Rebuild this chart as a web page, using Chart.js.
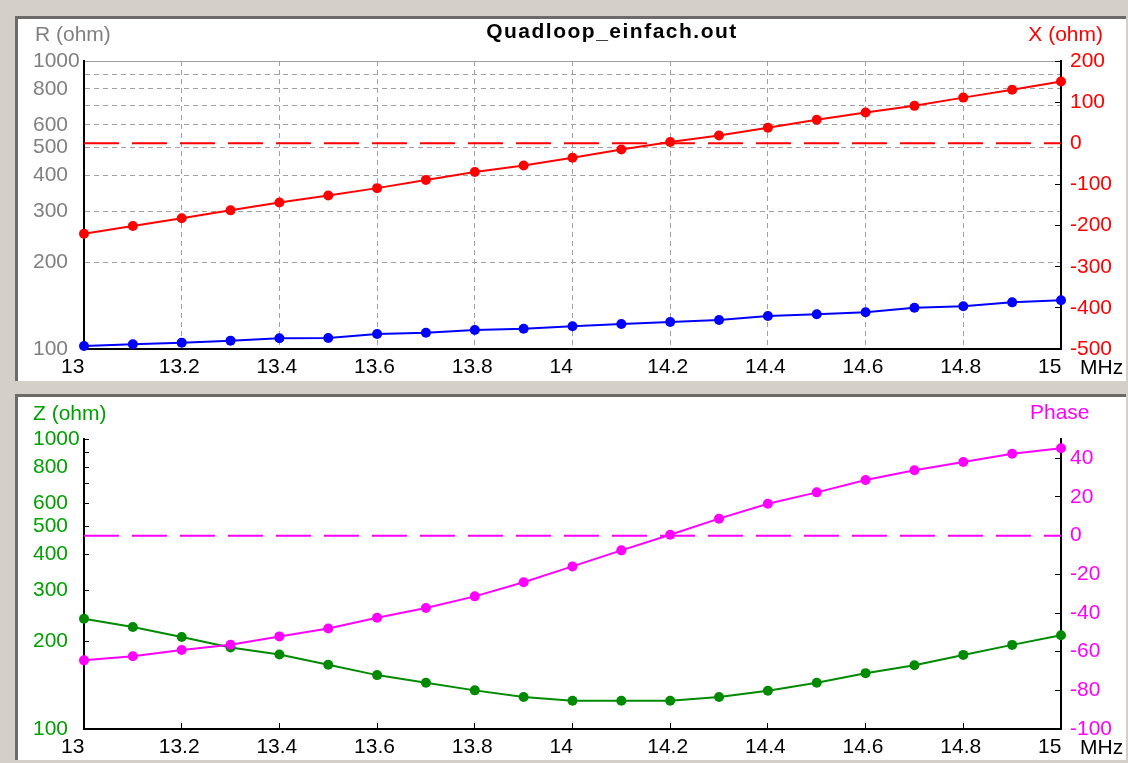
<!DOCTYPE html>
<html lang="de">
<head>
<meta charset="UTF-8">
<title>Quadloop_einfach.out</title>
<style>
  body { margin: 0; background: #d4d0c8; width: 1128px; height: 763px; overflow: hidden; }
  .panel { position: absolute; left: 15px; width: 1111px; background: #fff;
           border-top: 3px solid #6c6a66; border-left: 3px solid #6c6a66; box-sizing: border-box; }
  #p1 { top: 16px; height: 365px; }
  #p2 { top: 394px; height: 366px; }
  .panel div { position: relative; width: 1108px; height: 100%; }
</style>
</head>
<body>
  <div class="panel" id="p1"><div><canvas id="chartRX"></canvas></div></div>
  <div class="panel" id="p2"><div><canvas id="chartZP"></canvas></div></div>

<script src="https://cdn.jsdelivr.net/npm/chart.js"></script>
<script>
  // Frequenz in MHz
  const freq = [13.0, 13.1, 13.2, 13.3, 13.4, 13.5, 13.6, 13.7, 13.8, 13.9, 14.0,
                14.1, 14.2, 14.3, 14.4, 14.5, 14.6, 14.7, 14.8, 14.9, 15.0];
  const resistance = [102.4, 103.8, 105.2, 106.9, 108.9, 109.2, 112.7, 113.9, 116.4, 117.6, 119.9,
                      122.1, 124.1, 126.1, 130.2, 132.0, 134.1, 139.0, 140.7, 145.2, 147.6];
  const reactance = [-220, -201, -182, -163, -144, -127, -109, -89, -70, -54, -35,
                     -15, 3, 19, 38, 57, 75, 91, 111, 130, 150];
  const impedance = [240, 224.8, 207.7, 191, 180.7, 166.5, 153.4, 144.3, 135.9, 128.9, 125.2,
                     125.2, 125.1, 128.9, 135.5, 144.3, 155.8, 166, 180.1, 195, 210.6];
  const phase = [-64.5, -62.4, -59.1, -56.4, -52.1, -48, -42.5, -37.4, -31.4, -24.1, -15.9,
                 -7.6, 0.5, 8.8, 16.5, 22.4, 28.8, 33.8, 38.1, 42.4, 45.2];

  // Achsen
  const xTicks = [13, 13.2, 13.4, 13.6, 13.8, 14, 14.2, 14.4, 14.6, 14.8, 15];
  const ohmTicks = [100, 200, 300, 400, 500, 600, 700, 800, 900, 1000];
  const ohmLabels = [100, 200, 300, 400, 500, 600, 800, 1000];
  const reactTicks = [-500, -400, -300, -200, -100, 0, 100, 200];
  const phaseTicks = [-100, -80, -60, -40, -20, 0, 20, 40];

  Chart.defaults.font.family = '"Liberation Sans", Arial, sans-serif';
  Chart.defaults.font.size = 21;

  function pts(ys) { return freq.map((f, i) => ({ x: f, y: ys[i] })); }
  function zeroLine() { return [{ x: freq[0], y: 0 }, { x: freq[freq.length - 1], y: 0 }]; }
  function setTicks(values) { return axis => { axis.ticks = values.map(v => ({ value: v })); }; }
  function fixWidth(w) { return axis => { axis.width = w; }; }
  function fixHeight(h) { return axis => { axis.height = h; }; }
  function fmtX(v) { return String(Math.round(v * 10) / 10); }
  function ohmLabel(v) { return ohmLabels.includes(v) ? String(v) : ''; }

  function serie(data, color, axis) {
    return { data: data, yAxisID: axis, borderColor: color, backgroundColor: color,
             borderWidth: 2, pointRadius: 5, pointBorderWidth: 0, clip: false };
  }
  function dashed(color, axis) {
    return { data: zeroLine(), yAxisID: axis, borderColor: color, borderWidth: 2,
             borderDash: [35, 13], pointRadius: 0, clip: false };
  }

  function textPlugin(items) {
    return {
      id: 'texte',
      afterDraw(chart) {
        const c = chart.ctx;
        c.save();
        c.textBaseline = 'middle';
        items.forEach(t => {
          c.font = t.font;
          c.fillStyle = t.color;
          c.textAlign = t.align || 'left';
          c.letterSpacing = t.spacing || '0px';
          c.fillText(t.text, t.x, t.y);
        });
        c.restore();
      }
    };
  }

  const FONT = '21px "Liberation Sans", Arial, sans-serif';
  const gridGray = '#a0a0a0';
  const gridDash = ctx => (ctx.tick && ctx.tick.value !== 1000) ? [5, 4] : [];

  // oben: R und X
  new Chart(document.getElementById('chartRX'), {
    type: 'line',
    data: {
      datasets: [
        serie(pts(reactance), '#ff0000', 'yX'),
        serie(pts(resistance), '#0000ff', 'yR'),
        dashed('#ff0000', 'yX')
      ]
    },
    options: {
      responsive: true, maintainAspectRatio: false, animation: false, events: [],
      layout: { padding: { left: 15, top: 42, right: 0, bottom: 0 } },
      plugins: { legend: { display: false }, tooltip: { enabled: false } },
      scales: {
        x: {
          type: 'linear', min: 13, max: 15,
          afterBuildTicks: setTicks(xTicks), afterFit: fixHeight(32),
          grid: { color: gridGray, drawTicks: false },
          border: { color: '#000', width: 2, dash: [5, 4] },
          ticks: { color: '#000', align: 'start', labelOffset: -23, padding: 6,
                   maxRotation: 0, autoSkip: false, callback: fmtX }
        },
        yR: {
          type: 'logarithmic', position: 'left', min: 100, max: 1000,
          afterBuildTicks: setTicks(ohmTicks), afterFit: fixWidth(51),
          grid: { color: gridGray, drawTicks: false },
          border: { color: '#000', width: 2, dash: gridDash },
          ticks: { color: '#808080', crossAlign: 'far', autoSkip: false, callback: ohmLabel }
        },
        yX: {
          type: 'linear', position: 'right', min: -500, max: 200,
          afterBuildTicks: setTicks(reactTicks), afterFit: fixWidth(65),
          grid: { drawOnChartArea: false, color: '#000', tickLength: -6 },
          border: { color: '#000', width: 2 },
          ticks: { color: '#ff0000', padding: 15, autoSkip: false }
        }
      }
    },
    plugins: [textPlugin([
      { text: 'R (ohm)', x: 17, y: 16, color: '#808080', font: FONT },
      { text: 'Quadloop_einfach.out', x: 594, y: 13, color: '#000', align: 'center',
        font: 'bold 21px "Liberation Sans", Arial, sans-serif', spacing: '1.5px' },
      { text: 'X (ohm)', x: 1085, y: 16, color: '#ff0000', align: 'right', font: FONT },
      { text: 'MHz', x: 1062, y: 349, color: '#000', font: FONT }
    ])]
  });

  // unten: Z und Phase
  new Chart(document.getElementById('chartZP'), {
    type: 'line',
    data: {
      datasets: [
        serie(pts(phase), '#ff00ff', 'yP'),
        serie(pts(impedance), '#008a00', 'yZ'),
        dashed('#ff00ff', 'yP')
      ]
    },
    options: {
      responsive: true, maintainAspectRatio: false, animation: false, events: [],
      layout: { padding: { left: 15, top: 42, right: 0, bottom: 0 } },
      plugins: { legend: { display: false }, tooltip: { enabled: false } },
      scales: {
        x: {
          type: 'linear', min: 13, max: 15,
          afterBuildTicks: setTicks(xTicks), afterFit: fixHeight(31),
          grid: { drawOnChartArea: false, color: '#000', tickLength: -6 },
          border: { color: '#000', width: 2 },
          ticks: { color: '#000', align: 'start', labelOffset: -23, padding: 12,
                   maxRotation: 0, autoSkip: false, callback: fmtX }
        },
        yZ: {
          type: 'logarithmic', position: 'left', min: 100, max: 1000,
          afterBuildTicks: setTicks(ohmTicks), afterFit: fixWidth(51),
          grid: { drawOnChartArea: false, color: '#000', tickLength: -5 },
          border: { color: '#000', width: 2 },
          ticks: { color: '#00a000', crossAlign: 'far', autoSkip: false, callback: ohmLabel }
        },
        yP: {
          type: 'linear', position: 'right', min: -100, max: 50,
          afterBuildTicks: setTicks(phaseTicks), afterFit: fixWidth(65),
          grid: { drawOnChartArea: false, color: '#000', tickLength: -6 },
          border: { color: '#000', width: 2 },
          ticks: { color: '#ff00ff', padding: 15, autoSkip: false }
        }
      }
    },
    plugins: [textPlugin([
      { text: 'Z (ohm)', x: 15, y: 17, color: '#00a000', font: FONT },
      { text: 'Phase', x: 1012, y: 16, color: '#ff00ff', font: FONT },
      { text: 'MHz', x: 1062, y: 351, color: '#000', font: FONT }
    ])]
  });
</script>
</body>
</html>
